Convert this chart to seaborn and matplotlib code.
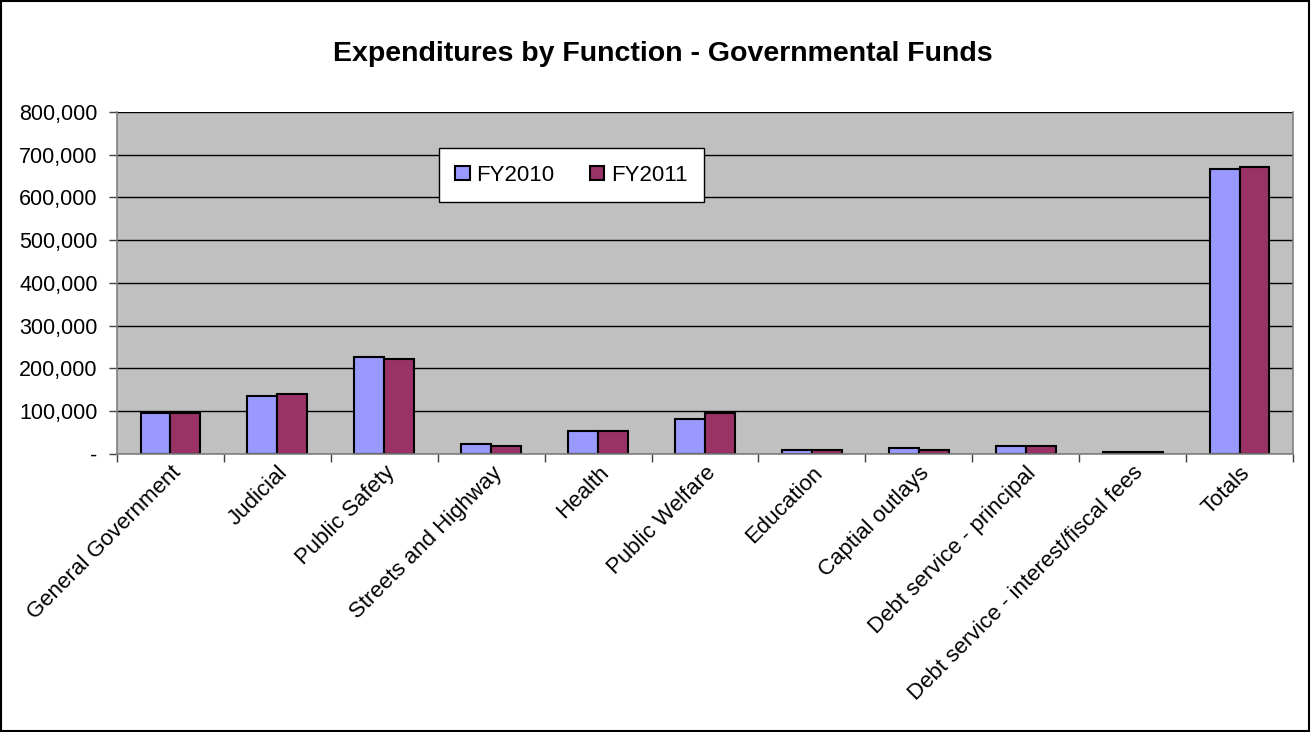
import numpy as np
import pandas as pd
import matplotlib
matplotlib.use("Agg")
import matplotlib.pyplot as plt
import seaborn as sns
from matplotlib.ticker import FuncFormatter, FixedLocator
from matplotlib.patches import Rectangle

categories = [
    "General Government", "Judicial", "Public Safety", "Streets and Highway",
    "Health", "Public Welfare", "Education", "Captial outlays",
    "Debt service - principal", "Debt service - interest/fiscal fees", "Totals",
]
fy2010 = [96500, 135500, 227500, 24000, 53500, 82000, 9500, 15000, 19500, 5000, 666000]
fy2011 = [96000, 141000, 223000, 19500, 53500, 96000, 8500, 9000, 19500, 5000, 671000]
series = ["FY2010", "FY2011"]
colors = ["#9999FF", "#993366"]
y_ticks = [0, 100000, 200000, 300000, 400000, 500000, 600000, 700000, 800000]

df = pd.DataFrame({
    "category": categories * 2,
    "value": fy2010 + fy2011,
    "year": [series[0]] * len(categories) + [series[1]] * len(categories),
})

sns.set_theme(style="white")
plt.rcParams["font.family"] = ["Liberation Sans", "DejaVu Sans"]
plt.rcParams["text.color"] = "black"
plt.rcParams["xtick.color"] = "black"
plt.rcParams["ytick.color"] = "black"

fig = plt.figure(figsize=(13.12, 7.32), dpi=100)
ax = fig.add_axes([0.0892, 0.3798, 0.8963, 0.4672])
ax.set_facecolor("#C0C0C0")

sns.barplot(data=df, x="category", y="value", hue="year", order=categories,
            hue_order=series, palette=colors, width=0.56, saturation=1,
            edgecolor="black", linewidth=1.5, ax=ax, legend=True)

ax.set_ylim(0, 800000)
ax.set_xlim(-0.5, len(categories) - 0.5)
ax.yaxis.set_major_locator(FixedLocator(y_ticks))
ax.yaxis.set_major_formatter(FuncFormatter(lambda v, p: "-" if v == 0 else f"{int(v):,}"))
ax.grid(axis="y", color="black", linewidth=1)
ax.set_axisbelow(True)

ax.set_xticks(range(len(categories)))
ax.set_xticklabels(categories, rotation=45, ha="right", rotation_mode="anchor",
                   fontsize=16)
ax.set_xticks(np.arange(-0.5, len(categories)), minor=True)
ax.tick_params(axis="x", which="major", length=0, pad=6)
ax.tick_params(axis="x", which="minor", length=6, width=1, color="#404040", direction="out", bottom=True)
ax.tick_params(axis="y", length=6, width=1, color="#404040", direction="out", left=True,
               labelsize=15.5, pad=8)
ax.set_xlabel("")
ax.set_ylabel("")

for side in ["left", "bottom", "right"]:
    ax.spines[side].set_color("#808080")
    ax.spines[side].set_linewidth(1.2)
ax.spines["top"].set_visible(False)

leg = ax.legend(loc="upper left", bbox_to_anchor=(0.264, 0.927), ncol=2, fontsize=16,
                frameon=True, fancybox=False, edgecolor="black", framealpha=1,
                handlelength=0.65, handleheight=0.65, handletextpad=0.3,
                columnspacing=1.6, borderpad=0.75)
leg.get_frame().set_linewidth(1)

fig.text(0.505, 0.926, "Expenditures by Function - Governmental Funds",
         ha="center", va="center", fontsize=20.5, fontweight="bold")

fig.patches.append(Rectangle((0.001, 0.001), 0.997, 0.997, transform=fig.transFigure,
                             fill=False, edgecolor="black", linewidth=1.5))

fig.savefig("out.png", dpi=100)
